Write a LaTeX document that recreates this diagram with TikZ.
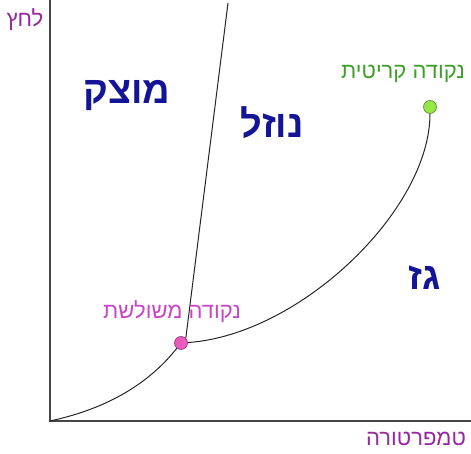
\documentclass[tikz,border=0pt]{standalone}
\usepackage{fontspec}
\TeXXeTstate=1
\newfontfamily\heb[Script=Hebrew]{Liberation Sans}
\definecolor{axlab}{RGB}{150,40,160}
\definecolor{tplab}{RGB}{200,70,200}
\definecolor{tpfill}{RGB}{235,90,190}
\definecolor{cplab}{RGB}{60,160,40}
\definecolor{cpfill}{RGB}{150,230,70}
\definecolor{phase}{RGB}{20,20,150}
\definecolor{axis}{RGB}{70,70,70}
\begin{document}
\begin{tikzpicture}[x=1pt,y=-1pt,
  axisline/.style={draw=axis,line width=1.6pt},
  curve/.style={draw=black!85,line width=1pt},
  phaselab/.style={text=phase,font=\heb\bfseries\fontsize{38}{40}\selectfont,inner sep=0pt},
  smalllab/.style={font=\heb\fontsize{22}{24}\selectfont,inner sep=0pt},
  dot/.style={circle,inner sep=0pt,minimum size=13pt,draw=#1!60!black,line width=0.6pt}]
\useasboundingbox (0,0) rectangle (471,454);
\fill[white] (0,0) rectangle (471,454);
\coordinate (ytop) at (50,0);
\coordinate (orig) at (50,421);
\coordinate (xend) at (471,421);
\coordinate (ctop) at (228,3);
\draw[axisline] (ytop) -- (orig) -- (xend);
\node[dot=tpfill,fill=tpfill] (tp) at (181,343) {};
\node[dot=cpfill,fill=cpfill] (cp) at (430,107) {};
\draw[curve] (orig) .. controls (110,408) and (150,382) .. (tp);
\draw[curve] (tp) .. controls (300,335) and (430,210) .. (cp);
\draw[curve] (tp.north east) -- (ctop);
\node[smalllab,text=axlab] (plab) at (25,20) {\beginR לחץ\endR};
\node[smalllab,text=axlab] (tlab) at (416,439) {\beginR טמפרטורה\endR};
\node[smalllab,text=cplab] (cplabel) at (403,74) {\beginR נקודה קריטית\endR};
\node[smalllab,text=tplab] (tplabel) at (172,312) {\beginR נקודה משולשת\endR};
\node[phaselab] (solid) at (127,96) {\beginR מוצק\endR};
\node[phaselab] (liquid) at (272,123) {\beginR נוזל\endR};
\node[phaselab] (gas) at (425,278) {\beginR גז\endR};
\end{tikzpicture}
\end{document}
